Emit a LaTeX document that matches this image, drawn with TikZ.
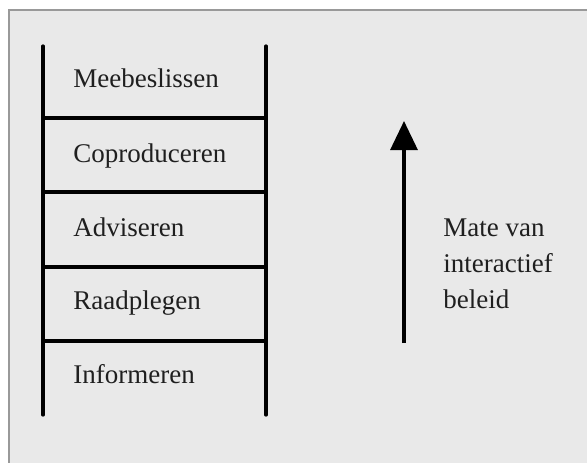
\documentclass[tikz,border=0pt]{standalone}
\usepackage{fontspec}
\setmainfont{Liberation Serif}
\usetikzlibrary{arrows.meta, positioning}

\begin{document}
\begin{tikzpicture}[
x=0.5pt, y=-0.5pt,
rail/.style={line width=1.6pt, line cap=round},
rung/.style={line width=1.6pt},
level/.style={anchor=base west,
inner sep=0pt,
text=black!88,
font=\fontsize{13.5}{18}\selectfont},
arrow/.style={-{Triangle[length=14.5pt, width=13.5pt]}, line width=1.6pt}
]
\useasboundingbox (0,0) rectangle (587,462);
\fill[white] (0,0) rectangle (587,462);
\draw[fill=black!8.5, draw=black!40, line width=0.9pt] (9,10) rectangle (600,475);

% ladder rails
\coordinate (lefttop) at (43,46);
\coordinate (leftbottom) at (43,415);
\coordinate (righttop) at (266,46);
\coordinate (rightbottom) at (266,415);
\draw[rail] (lefttop) -- (leftbottom);
\draw[rail] (righttop) -- (rightbottom);

% rungs
\foreach \y/\n in {118/1, 192/2, 267/3, 341/4} {
\coordinate (left\n) at (43,\y);
\coordinate (right\n) at (266,\y);
\draw[rung] (left\n) -- (right\n);
}

\node[level] (meebeslissen) at (73,87) {Meebeslissen};
\node[level] (coproduceren) at (73,162) {Coproduceren};
\node[level] (adviseren) at (73,236) {Adviseren};
\node[level] (raadplegen) at (73,309) {Raadplegen};
\node[level] (informeren) at (73,383) {Informeren};

% arrow with label
\coordinate (arrowtail) at (404,343);
\coordinate (arrowtip) at (404,121);
\draw[arrow] (arrowtail) -- (arrowtip);

\node[level, align=left] (interactie) at (443,308) {Mate van\\interactief\\beleid};

\end{tikzpicture}
\end{document}
